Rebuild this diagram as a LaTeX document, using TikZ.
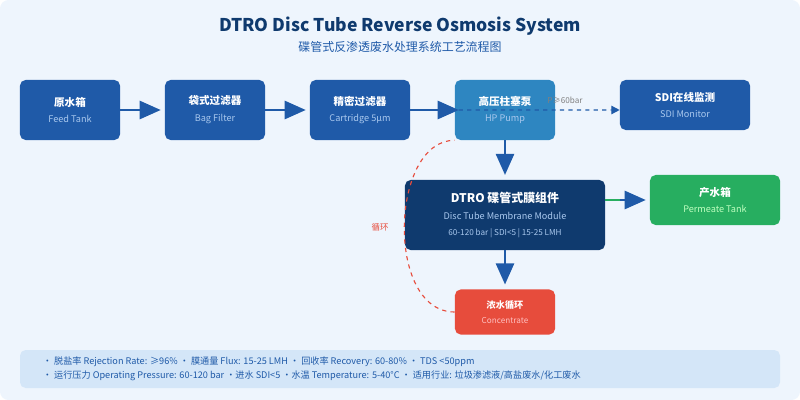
\documentclass[tikz,border=0pt]{standalone}
\usepackage{fontspec}
\setmainfont{Noto Sans CJK SC}
\usetikzlibrary{positioning,arrows.meta}
\definecolor{bgblue}{HTML}{EEF5FD}
\definecolor{boxblue}{HTML}{1F5AA8}
\definecolor{pumpblue}{HTML}{2E86C1}
\definecolor{darkblue}{HTML}{0F3A6E}
\definecolor{okgreen}{HTML}{27AE60}
\definecolor{warnred}{HTML}{E74C3C}
\definecolor{notebg}{HTML}{D4E6F8}
\definecolor{subtext}{HTML}{A9C8EE}
\tikzset{
  box/.style={rounded corners=4pt, fill=boxblue, text=white, align=center, font=\fontsize{7.5}{10}\selectfont\bfseries},
  flow/.style={draw=boxblue, line width=1.4pt, -{Triangle[length=15pt,width=13pt]}}
}
\begin{document}
\begin{tikzpicture}[x=0.025cm, y=-0.025cm]
\fill[bgblue, rounded corners=6pt] (0,0) rectangle (800,400);
\useasboundingbox (0,0) rectangle (800,400);
% Titel
\node[font=\fontsize{12.5}{15}\selectfont\bfseries, text=darkblue] (title) at (400,26) {DTRO Disc Tube Reverse Osmosis System};
\node[font=\fontsize{8.5}{10}\selectfont, text=boxblue] (subtitle) at (400,47) {碟管式反渗透废水处理系统工艺流程图};
% Prozesskette
\node[box, minimum width=2.5cm, minimum height=1.5cm] (feed) at (70,110) {原水箱\\[2pt]{\fontsize{6.5}{8}\selectfont\mdseries\color{subtext}Feed Tank}};
\node[box, minimum width=2.5cm, minimum height=1.5cm] (bag) at (215,110) {袋式过滤器\\[2pt]{\fontsize{6.5}{8}\selectfont\mdseries\color{subtext}Bag Filter}};
\node[box, minimum width=2.5cm, minimum height=1.5cm] (cart) at (360,110) {精密过滤器\\[2pt]{\fontsize{6.5}{8}\selectfont\mdseries\color{subtext}Cartridge 5μm}};
\node[box, fill=pumpblue, minimum width=2.5cm, minimum height=1.5cm] (pump) at (505,110) {高压柱塞泵\\[2pt]{\fontsize{6.5}{8}\selectfont\mdseries\color{subtext}HP Pump}};
\node[box, minimum width=3.25cm, minimum height=1.25cm] (sdi) at (685,105) {SDI在线监测\\[2pt]{\fontsize{6.5}{8}\selectfont\mdseries\color{subtext}SDI Monitor}};
\node[box, fill=darkblue, minimum width=5cm, minimum height=1.75cm, font=\fontsize{8.5}{11}\selectfont\bfseries] (dtro) at (505,215) {DTRO 碟管式膜组件\\[1pt]{\fontsize{6.5}{8}\selectfont\mdseries\color{subtext}Disc Tube Membrane Module}\\[1pt]{\fontsize{5.8}{8}\selectfont\mdseries\color{subtext}60-120 bar | SDI<5 | 15-25 LMH}};
\node[box, fill=okgreen, minimum width=3.25cm, minimum height=1.25cm] (perm) at (715,200) {产水箱\\[2pt]{\fontsize{6.5}{8}\selectfont\mdseries\color{green!25!white}Permeate Tank}};
\node[box, fill=warnred, minimum width=2.5cm, minimum height=1.125cm, font=\fontsize{6.5}{9}\selectfont\bfseries] (conc) at (505,312) {浓水循环\\[2pt]{\fontsize{5.8}{8}\selectfont\mdseries\color{red!25!white}Concentrate}};
% Verbindungen
\draw[flow] (feed.east) -- ([xshift=-0.1cm]bag.west);
\draw[flow] (bag.east) -- ([xshift=-0.1cm]cart.west);
\draw[flow] (cart.east) -- ([xshift=0.1cm]pump.west);
\draw[boxblue, line width=1pt, dashed, -{Triangle[length=6pt,width=6pt]}] ([xshift=0.1cm]pump.west) -- ([yshift=-0.125cm]sdi.west);
\node[font=\fontsize{5.8}{7}\selectfont, text=gray] (plabel) at (565,100) {P≥60bar};
\draw[flow] (pump.south) -- ([yshift=0.12cm]dtro.north);
\draw[line width=1.4pt, draw=okgreen] (dtro.east |- perm.west) -- ([xshift=-0.7cm]perm.west);
\draw[flow] ([xshift=-0.75cm]perm.west) -- ([xshift=-0.1cm]perm.west);
\draw[flow] (dtro.south) -- ([yshift=0.12cm]conc.north);
\draw[warnred, line width=0.8pt, dashed] (conc.west) .. controls (385,312) and (390,140) .. (pump.south west);
\node[font=\fontsize{6}{7}\selectfont, text=warnred] (loop) at (380,227) {循环};
% Kennwerte
\fill[notebg, rounded corners=4pt] (20,350) rectangle (780,388);
\node[anchor=west, align=left, font=\fontsize{6.5}{10}\selectfont, text=boxblue] (notes) at (38,369) {• 脱盐率 Rejection Rate: ≥96\% • 膜通量 Flux: 15-25 LMH • 回收率 Recovery: 60-80\% • TDS <50ppm\\• 运行压力 Operating Pressure: 60-120 bar •进水 SDI<5 •水温 Temperature: 5-40°C • 适用行业: 垃圾渗滤液/高盐废水/化工废水};
\end{tikzpicture}
\end{document}
